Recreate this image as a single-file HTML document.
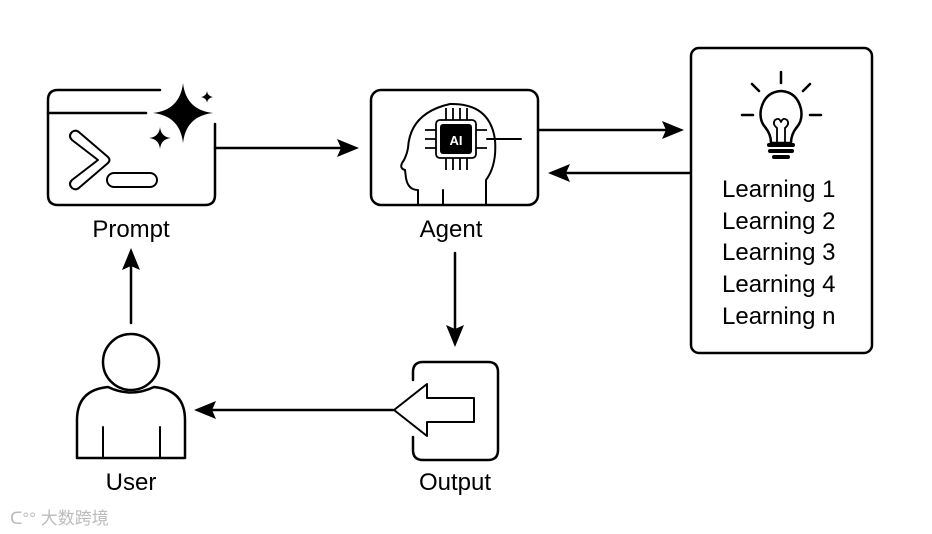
<!DOCTYPE html>
<html><head><meta charset="utf-8"><style>
html,body{margin:0;padding:0;background:#fff;}
svg{display:block;}
text{font-family:"Liberation Sans","Noto Sans CJK SC",sans-serif;fill:#000;}
</style></head><body>
<svg width="932" height="534" viewBox="0 0 932 534" xmlns="http://www.w3.org/2000/svg">
<g fill="none" stroke="#000" stroke-width="2.5" stroke-linecap="round" stroke-linejoin="round">
<!-- Prompt box -->
<path d="M160 90 H58 Q48 90 48 100 V195 Q48 205 58 205 H205 Q215 205 215 195 V124"/>
<path d="M48 113 H146"/>
<path d="M72 140 L98 160 L72 180 Q68 184 72 188 Q76 191 80 187 L108 163 Q111 160 108 157 L80 133 Q76 129 72 132 Q68 136 72 140 Z" stroke-width="2"/>
<rect x="107" y="173" width="50" height="14" rx="7" stroke-width="2"/>
<!-- Agent box -->
<rect x="371" y="90" width="167" height="115" rx="10"/>
<path d="M418 204 V190 Q408 190 406 178 L405 170 Q398 168 404 160 Q407 154 408 148 Q410 113 450 104 Q490 103 495 140 Q497 165 486 180 V204" stroke-width="2"/>
<path d="M443 190 V204" stroke-width="2"/>
<path d="M487 139 H521" stroke-width="2"/>
<!-- Learning box -->
<rect x="691" y="48" width="181" height="305" rx="8"/>
<!-- Output box -->
<path d="M413 380 V372 Q413 362 423 362 H488 Q498 362 498 372 V450 Q498 460 488 460 H423 Q413 460 413 450 V437"/>
<path d="M394 410 L427 384 V398 H474 V422 H427 V436 Z" stroke-width="2"/>
<!-- User -->
<circle cx="131" cy="362" r="28"/>
<path d="M77 458 V420 Q77 390 108 387 Q131 398 154 387 Q185 390 185 420 V458 Z"/>
<path d="M103 427 V458 M160 427 V458" stroke-width="2"/>
<!-- connectors -->
<path d="M215 148 H345"/>
<path d="M538 130 H670"/>
<path d="M690 173 H562"/>
<path d="M455 253 V332"/>
<path d="M393 410 H208"/>
<path d="M131 323 V262"/>
<!-- bulb -->
<path d="M781 72 V83 M752 84 L759 91 M810 84 L803 91 M742 115 H753 M810 115 H821" stroke-width="2.5"/>
<path d="M771 143 Q771 134 765 127 Q759 120 761 109 Q765 92 781 91 Q797 92 801 109 Q803 120 797 127 Q791 134 791 143 Z" stroke-width="2.5"/>
<path d="M777 143 V128 Q772 124 775 120 Q779 117 781 122 Q783 117 787 120 Q790 124 785 128 V143" stroke-width="1.8"/>
</g>
<g fill="#000">
<polygon points="359,148 337,139 341,148 337,157"/>
<polygon points="684,130 662,121 666,130 662,139"/>
<polygon points="548,173 570,164 566,173 570,182"/>
<polygon points="455,347 446,325 455,329 464,325"/>
<polygon points="194,410 216,401 212,410 216,419"/>
<polygon points="131,248 122,270 131,266 140,270"/>
<path d="M183 83 Q186 110 213 113 Q186 116 183 143 Q180 116 153 113 Q180 110 183 83 Z"/>
<path d="M160 127 Q161 137 171 138 Q161 139 160 149 Q159 139 149 138 Q159 137 160 127 Z"/>
<path d="M207 91 Q207.5 96 213 97 Q207.5 98 207 103 Q206.5 98 201 97 Q206.5 96 207 91 Z"/>
<rect x="440" y="124" width="32" height="30" rx="3"/>
<rect x="767" y="143" width="28" height="4" rx="2"/>
<rect x="768" y="149" width="26" height="4" rx="2"/>
<rect x="772" y="155" width="18" height="4" rx="2"/>
</g>
<g stroke="#000" stroke-width="1.8" fill="none">
<rect x="436" y="120" width="40" height="38" rx="4"/>
<path d="M446 120 V108 M453 120 V108 M460 120 V108 M467 120 V108 M446 158 V170 M453 158 V170 M460 158 V170 M467 158 V170 M436 130 H425 M436 139 H425 M436 148 H425 M476 130 H487 M476 148 H487"/>
</g>
<text x="456" y="145" font-size="13" font-weight="bold" text-anchor="middle" style="fill:#fff">AI</text>
<g font-size="24">
<text x="131" y="237" text-anchor="middle">Prompt</text>
<text x="451" y="237" text-anchor="middle">Agent</text>
<text x="131" y="490" text-anchor="middle">User</text>
<text x="455" y="490" text-anchor="middle">Output</text>
<text x="722" y="197">Learning 1</text>
<text x="722" y="229">Learning 2</text>
<text x="722" y="260">Learning 3</text>
<text x="722" y="292">Learning 4</text>
<text x="722" y="324">Learning n</text>
</g>
<text x="10" y="524" font-size="17" style="fill:#bbb">ᑕ°° 大数跨境</text>
</svg>
</body></html>
